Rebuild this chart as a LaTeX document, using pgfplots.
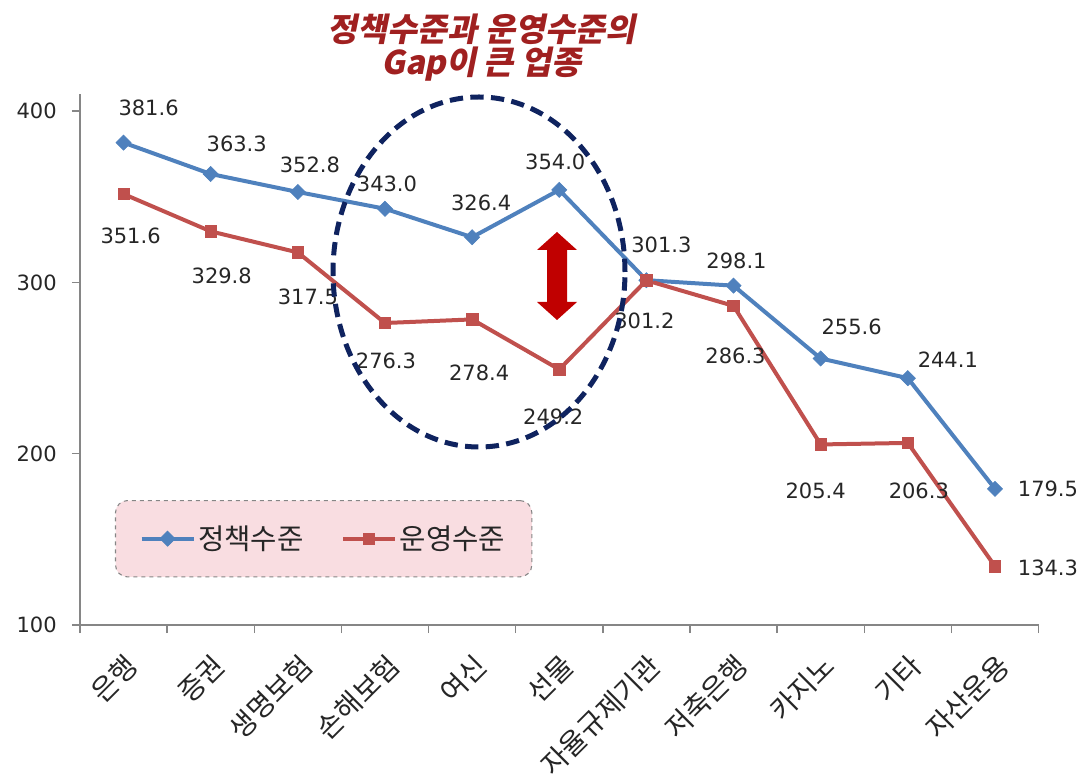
\documentclass[border=0pt]{standalone}
\usepackage{fontspec}
\setmainfont{DejaVu Sans}
\newfontfamily\kr{Noto Sans CJK KR}
\newfontfamily\krt{Noto Sans CJK KR}[UprightFeatures={FakeSlant=0.2}, BoldFeatures={FakeSlant=0.2}]
\usepackage{pgfplots}
\pgfplotsset{compat=1.18}

\definecolor{sblue}{RGB}{79,129,189}
\definecolor{sred}{RGB}{192,80,77}
\definecolor{axisgray}{RGB}{134,134,134}
\definecolor{navy}{RGB}{15,35,95}
\definecolor{arrowred}{RGB}{192,0,0}
\definecolor{titlered}{RGB}{160,32,32}
\definecolor{legpink}{RGB}{249,221,225}

\newcommand{\lab}{\fontsize{15.75}{18}\selectfont}

\begin{document}
\begin{tikzpicture}
\path[use as bounding box] (0,0) rectangle (811.5pt,586.5pt);

\begin{axis}[
  at={(60pt,117.75pt)}, anchor=south west,
  scale only axis, width=718.9pt, height=398.25pt,
  xmin=-0.5, xmax=10.5, ymin=100, ymax=410,
  clip=false,
  axis x line=bottom, axis y line=left,
  axis line style={-, draw=axisgray, line width=1pt},
  ytick={100,200,300,400},
  xtick={-0.5,0.5,...,10.5},
  x tick label as interval,
  xticklabels={은행,증권,생명보험,손해보험,여신,선물,자율규제기관,저축은행,카지노,기타,자산운용},
  tick align=outside, major tick length=6pt,
  tick style={draw=axisgray, line width=1pt},
  /pgf/number format/assume math mode=true,
  yticklabel style={font=\lab, text=black!85, xshift=-8pt},
  xticklabel style={font=\kr\fontsize{21}{24}\selectfont, text=black!85, rotate=45, anchor=north east},
  xticklabel shift=9pt,
  legend columns=2,
  legend cell align=left,
  legend style={at={(0.0365,0.2354)}, anchor=north west,
    draw=axisgray, dashed, line width=0.8pt, rounded corners=9pt, fill=legpink,
    font=\kr\fontsize{21.5}{24}\selectfont, text=black!85,
    inner xsep=18pt, inner ysep=17pt},
  /tikz/every even column/.append style={column sep=26pt},
  legend image code/.code={\draw[solid,mark repeat=2,mark phase=2,#1] plot coordinates {(0pt,0pt) (19.5pt,0pt) (39pt,0pt)};},
]
\addplot[color=sblue, line width=3pt, mark=square*, mark size=4pt,
  mark options={solid, rotate=45, fill=sblue, line width=0.5pt}]
  coordinates {(0,381.6) (1,363.3) (2,352.8) (3,343.0) (4,326.4) (5,354.0)
               (6,301.3) (7,298.1) (8,255.6) (9,244.1) (10,179.5)};
\addlegendentry{정책수준}
\addplot[color=sred, line width=3pt, mark=square*, mark size=4.3pt,
  mark options={solid, fill=sred, line width=0.5pt}]
  coordinates {(0,351.6) (1,329.8) (2,317.5) (3,276.3) (4,278.4) (5,249.2)
               (6,301.2) (7,286.3) (8,205.4) (9,206.3) (10,134.3)};
\addlegendentry{운영수준}

% data labels, policy level
\begin{scope}[every node/.style={font=\lab, text=black!85, inner sep=0pt}]
\node[xshift=18.75pt, yshift=26.25pt] at (axis cs:0,381.6) {381.6};
\node[xshift=19.5pt, yshift=22.5pt] at (axis cs:1,363.3) {363.3};
\node[xshift=9pt, yshift=20.25pt] at (axis cs:2,352.8) {352.8};
\node[xshift=1.5pt, yshift=18.75pt] at (axis cs:3,343.0) {343.0};
\node[xshift=6.75pt, yshift=25.5pt] at (axis cs:4,326.4) {326.4};
\node[xshift=-3pt, yshift=21pt] at (axis cs:5,354.0) {354.0};
\node[xshift=11.25pt, yshift=26.25pt] at (axis cs:6,301.3) {301.3};
\node[xshift=2.25pt, yshift=18.75pt] at (axis cs:7,298.1) {298.1};
\node[xshift=23.25pt, yshift=24pt] at (axis cs:8,255.6) {255.6};
\node[xshift=30pt, yshift=13.5pt] at (axis cs:9,244.1) {244.1};
\node[xshift=39.75pt, yshift=0pt] at (axis cs:10,179.5) {179.5};
% data labels, operating level
\node[xshift=5.25pt, yshift=-31.5pt] at (axis cs:0,351.6) {351.6};
\node[xshift=8.25pt, yshift=-33pt] at (axis cs:1,329.8) {329.8};
\node[xshift=7.5pt, yshift=-33pt] at (axis cs:2,317.5) {317.5};
\node[xshift=0.75pt, yshift=-28.5pt] at (axis cs:3,276.3) {276.3};
\node[xshift=5.25pt, yshift=-39.75pt] at (axis cs:4,278.4) {278.4};
\node[xshift=-4.5pt, yshift=-35.25pt] at (axis cs:5,249.2) {249.2};
\node[xshift=-1.5pt, yshift=-30pt] at (axis cs:6,301.2) {301.2};
\node[xshift=1.5pt, yshift=-37.5pt] at (axis cs:7,286.3) {286.3};
\node[xshift=-3.75pt, yshift=-34.5pt] at (axis cs:8,205.4) {205.4};
\node[xshift=8.25pt, yshift=-36pt] at (axis cs:9,206.3) {206.3};
\node[xshift=39.75pt, yshift=-1.5pt] at (axis cs:10,134.3) {134.3};
\end{scope}
\end{axis}

% gap ellipse
\draw[navy, line width=3.75pt, dash pattern=on 10pt off 5.5pt] (359.25pt,382.5pt) ellipse [x radius=109.5pt, y radius=131.25pt];

% double arrow
\fill[arrowred] (417.75pt,412.5pt) -- ++(15pt,-13.5pt) -- ++(-7.5pt,0) -- (425.25pt,360pt) -- ++(7.5pt,0)
  -- (417.75pt,346.5pt) -- (402.75pt,360pt) -- ++(7.5pt,0) -- (410.25pt,399pt) -- ++(-7.5pt,0) -- cycle;

% title
\node[text=titlered, font=\krt\bfseries\fontsize{24.5}{27}\selectfont, align=center]
  at (361pt,551pt) {정책수준과 운영수준의\\[-2pt]Gap이 큰 업종};
\end{tikzpicture}
\end{document}
